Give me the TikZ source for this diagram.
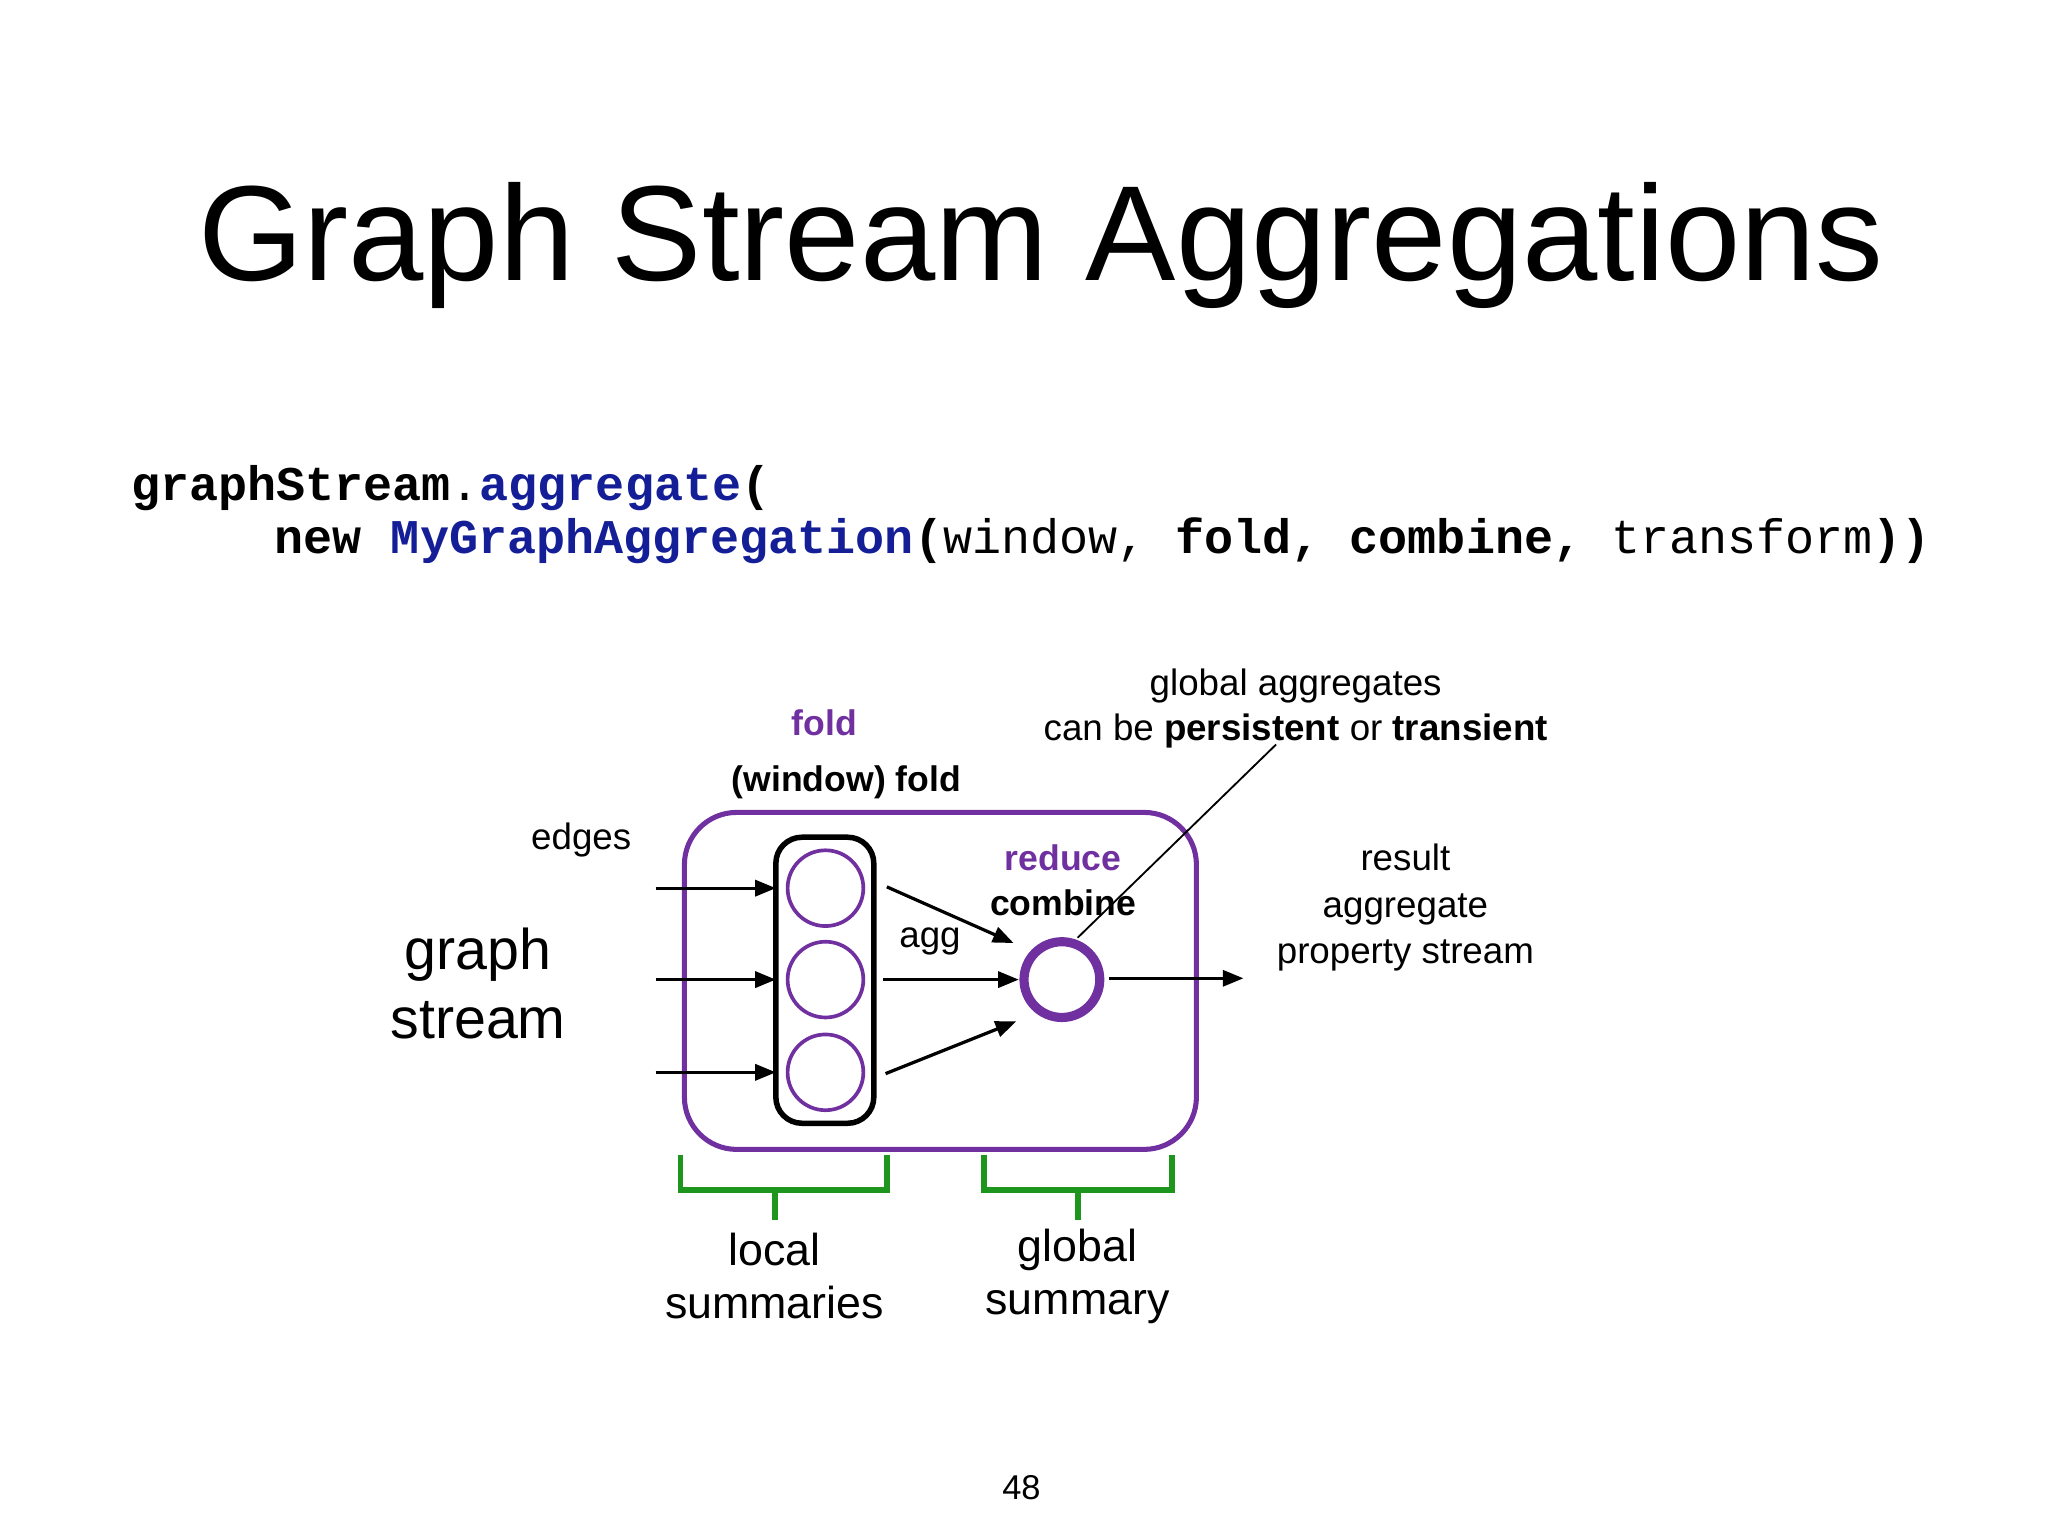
\documentclass[tikz,border=0pt]{standalone}
\usepackage{fontspec}
\setmainfont{Liberation Sans}
\setmonofont{Liberation Mono}
\usetikzlibrary{arrows.meta}
\definecolor{codeblue}{RGB}{20,30,150}
\definecolor{purp}{RGB}{112,48,160}
\definecolor{grn}{RGB}{30,150,30}
\tikzset{
  arr/.style={-{Triangle[length=9pt,width=7pt]},line width=1.4pt},
  lbl/.style={font=\fontsize{16}{20}\selectfont,align=center,inner sep=0},
  big/.style={font=\fontsize{19.5}{23}\selectfont,align=center,inner sep=0},
  smallc/.style={circle,draw=purp,line width=1.6pt,minimum size=58*0.02cm,inner sep=0},
  brk/.style={draw=grn,line width=2.6pt}
}
\begin{document}
\begin{tikzpicture}[x=0.02cm,y=-0.02cm]
\useasboundingbox (0,0) rectangle (1568,1176);
\node[inner sep=0,font=\fontsize{59}{62}\selectfont] (title) at (797,188) {Graph Stream Aggregations};
\node[inner sep=0,anchor=west,font=\ttfamily\fontsize{21.1}{24}\selectfont] (code1) at (100,374)
 {\textbf{graphStream}.\textbf{\color{codeblue}aggregate}\textbf{(}};
\node[inner sep=0,anchor=west,font=\ttfamily\fontsize{21.1}{24}\selectfont] (code2) at (210,414)
 {\textbf{new} \textbf{\color{codeblue}MyGraphAggregation}\textbf{(}window, \textbf{fold,} \textbf{combine,} transform\textbf{))}};
% boxes
\draw[purp,line width=2.2pt,rounded corners=40*0.02cm] (524,622) rectangle (916,880);
\draw[black,line width=2.4pt,rounded corners=20*0.02cm] (594,641) rectangle (669,860);
\node[smallc] (c1) at (632,680) {};
\node[smallc] (c2) at (632,750) {};
\node[smallc] (c3) at (632,821) {};
\node[circle,draw=purp,line width=4pt,minimum size=58*0.02cm,inner sep=0] (r) at (813,750) {};
% input arrows
\coordinate (i1) at (502,680); \coordinate (i2) at (502,750); \coordinate (i3) at (502,821);
\coordinate (b1) at (594,680); \coordinate (b2) at (594,750); \coordinate (b3) at (594,821);
\draw[arr] (i1) -- (b1); \draw[arr] (i2) -- (b2); \draw[arr] (i3) -- (b3);
\coordinate (o1) at (679,679); \coordinate (t1) at (776,722);
\coordinate (o2) at (676,750); \coordinate (t2) at (780,750);
\coordinate (o3) at (678,822); \coordinate (t3) at (778,782);
\draw[arr] (o1) -- (t1); \draw[arr] (o2) -- (t2); \draw[arr] (o3) -- (t3);
\coordinate (rs) at (849,749); \coordinate (out) at (952,749);
\draw[arr] (rs) -- (out);
\coordinate (p1) at (825,718); \coordinate (p2) at (977,570);
\draw[line width=0.8pt] (p1) -- (p2);
% labels
\node[lbl] (edges) at (445,643) {edges};
\node[font=\fontsize{25}{30}\selectfont,align=center,inner sep=0] (gs) at (366,753) {graph\\stream};
\node[lbl,text=purp,font=\bfseries\fontsize{15.5}{20}\selectfont] (fold) at (631,553) {fold};
\node[lbl,font=\bfseries\fontsize{15.5}{20}\selectfont] (wf) at (648,599) {(window) fold};
\node[lbl,text=purp,font=\bfseries\fontsize{15.5}{20}\selectfont] (red) at (814,657) {reduce};
\node[lbl,font=\bfseries\fontsize{15.5}{20}\selectfont] (comb) at (814,691) {combine};
\node[lbl] (agg) at (712,721) {agg};
\node[lbl] (ga) at (992,525) {global aggregates};
\node[lbl] (ga2) at (992,560) {can be \textbf{persistent} or \textbf{transient}};
\node[lbl,font=\fontsize{16}{20.2}\selectfont] (res) at (1076,695) {result\\aggregate\\property stream};
% brackets
\draw[brk] (521,884) -- (521,911) -- (679,911) -- (679,884);
\draw[brk] (593,911) -- (593,934);
\draw[brk] (753,884) -- (753,911) -- (897,911) -- (897,884);
\draw[brk] (825,911) -- (825,934);
\node[big] (ls) at (593,977) {local\\summaries};
\node[big] (gsum) at (825,977) {global\\summary};
\node[inner sep=0,font=\fontsize{15}{18}\selectfont] (pg) at (782,1139) {48};
\end{tikzpicture}
\end{document}
